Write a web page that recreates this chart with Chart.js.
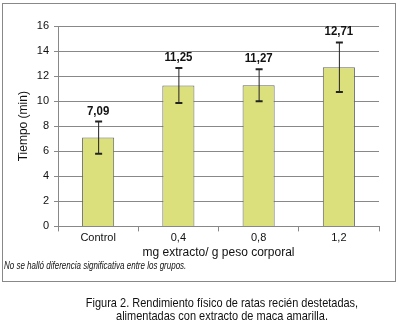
<!DOCTYPE html>
<html><head><meta charset="utf-8">
<script src="https://cdn.jsdelivr.net/npm/chart.js@4.4.0/dist/chart.umd.min.js"></script>
<style>html,body{margin:0;padding:0;background:#fff;}#wrap{width:400px;height:322px;position:relative;}</style>
</head><body><div id="wrap"><canvas id="c" width="400" height="322"></canvas></div>
<script>
const categories = ["Control", "0,4", "0,8", "1,2"];
const values = [7.09, 11.25, 11.27, 12.71];
const errors = [1.28, 1.39, 1.28, 1.98];
const valueLabels = ["7,09", "11,25", "11,27", "12,71"];
const yTicks = [0, 2, 4, 6, 8, 10, 12, 14, 16];
const yTitle = "Tiempo (min)";
const xTitle = "mg extracto/ g peso corporal";
const note = "No se halló diferencia significativa entre los grupos.";
const caption = ["Figura 2. Rendimiento físico de ratas recién destetadas,", "alimentadas con extracto de maca amarilla."];

const SANS = "'Liberation Sans',Arial,sans-serif";

function narrowText(ctx, text, x, y, sx) {
  ctx.save();
  ctx.translate(x, y);
  ctx.scale(sx, 1);
  ctx.fillText(text, 0, 0);
  ctx.restore();
}

const extras = {
  id: 'extras',
  afterDatasetsDraw(chart) {
    const ctx = chart.ctx;
    const y = chart.scales.y;
    const meta = chart.getDatasetMeta(0);
    ctx.save();
    meta.data.forEach((bar, i) => {
      const x = bar.x;
      const top = y.getPixelForValue(values[i] + errors[i]);
      const bot = y.getPixelForValue(values[i] - errors[i]);
      ctx.strokeStyle = '#222';
      ctx.lineWidth = 1;
      ctx.beginPath(); ctx.moveTo(x + 0.5, top); ctx.lineTo(x + 0.5, bot); ctx.stroke();
      ctx.lineWidth = 2;
      ctx.beginPath(); ctx.moveTo(x - 3, top); ctx.lineTo(x + 4, top);
      ctx.moveTo(x - 3, bot); ctx.lineTo(x + 4, bot); ctx.stroke();
      ctx.fillStyle = '#111';
      ctx.font = "bold 13px " + SANS;
      ctx.textAlign = 'center';
      ctx.textBaseline = 'alphabetic';
      narrowText(ctx, valueLabels[i], x, top - 7, 0.88);
    });
    ctx.restore();
  },
  afterDraw(chart) {
    const ctx = chart.ctx;
    ctx.save();
    ctx.strokeStyle = '#888';
    ctx.lineWidth = 1;
    ctx.strokeRect(2.5, 3.5, 393, 278);
    ctx.fillStyle = '#111';
    ctx.font = "italic 10px " + SANS;
    ctx.textAlign = 'left';
    ctx.textBaseline = 'middle';
    narrowText(ctx, note, 4, 266, 0.8);
    ctx.font = "13px " + SANS;
    ctx.textAlign = 'center';
    narrowText(ctx, caption[0], 222, 303, 0.845);
    narrowText(ctx, caption[1], 222, 316, 0.845);
    ctx.restore();
  }
};

new Chart(document.getElementById('c'), {
  type: 'bar',
  data: {
    labels: categories,
    datasets: [{
      data: values,
      backgroundColor: '#dbe07c',
      borderColor: '#666',
      borderWidth: 1,
      categoryPercentage: 1,
      barPercentage: 0.4
    }]
  },
  options: {
    responsive: false,
    animation: false,
    devicePixelRatio: 1,
    layout: { padding: { left: 16, right: 21, top: 26, bottom: 62 } },
    plugins: { legend: { display: false }, tooltip: { enabled: false } },
    scales: {
      x: {
        grid: { display: true, drawOnChartArea: false, drawTicks: true, tickLength: 5, color: '#888', offset: true },
        border: { color: '#888' },
        ticks: { color: '#111', font: { family: SANS, size: 11 }, padding: 0 },
        title: { display: true, text: xTitle, color: '#111', font: { family: SANS, size: 12 }, padding: { top: 1, bottom: 0 } }
      },
      y: {
        min: 0, max: 16,
        afterBuildTicks(scale) { scale.ticks = yTicks.map(v => ({ value: v })); },
        grid: { color: '#888', tickLength: 4 },
        border: { color: '#888' },
        ticks: { color: '#111', font: { family: SANS, size: 11 }, padding: 5 },
        title: { display: true, text: yTitle, color: '#111', font: { family: SANS, size: 12 }, padding: { top: 0, bottom: 6 } },
        afterFit(scale) { scale.width = 42; }
      }
    }
  },
  plugins: [extras]
});
</script></body></html>
